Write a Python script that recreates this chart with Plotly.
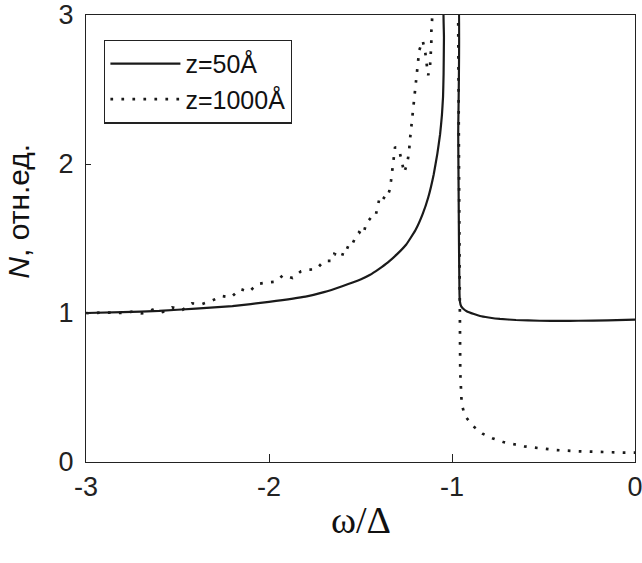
import plotly.graph_objects as go

# z = 50 Å (solid)
solid_x = [-3.0, -2.8, -2.6, -2.4, -2.2, -2.0, -1.8, -1.7, -1.6, -1.5,
           -1.45, -1.4, -1.35, -1.3, -1.25, -1.2, -1.16, -1.13, -1.1, -1.08,
           -1.065, -1.055, -1.049, -1.046, -1.044, -1.043,
           -0.970, -0.966, -0.962, -0.959, -0.957, -0.95, -0.94, -0.92, -0.88,
           -0.847, -0.8, -0.738, -0.65, -0.52, -0.4, -0.31, -0.15, 0.0]
solid_y = [1.0, 1.006, 1.014, 1.03, 1.046, 1.075, 1.11, 1.14, 1.18, 1.225,
           1.255, 1.295, 1.34, 1.395, 1.46, 1.555, 1.665, 1.775, 1.93, 2.07,
           2.2, 2.33, 2.45, 2.6, 2.85, 3.2,
           3.2, 2.2, 1.5, 1.13, 1.08, 1.045, 1.03, 1.012, 0.993,
           0.98, 0.97, 0.96, 0.953, 0.948, 0.947, 0.948, 0.951, 0.956]

# z = 1000 Å (dotted)
dot_x = [-3.0, -2.973, -2.918, -2.858, -2.803, -2.745, -2.694, -2.636, -2.581, -2.53,
         -2.472, -2.421, -2.366, -2.311, -2.258, -2.208, -2.158, -2.109, -2.062, -2.013,
         -1.963, -1.922, -1.871, -1.825, -1.789, -1.743, -1.698, -1.654, -1.643, -1.603,
         -1.585, -1.556, -1.534, -1.508, -1.485, -1.47, -1.444, -1.419, -1.406, -1.393,
         -1.361, -1.343, -1.333, -1.326, -1.32, -1.311, -1.288, -1.275, -1.261, -1.244,
         -1.235, -1.23, -1.224, -1.217, -1.211, -1.206, -1.198, -1.193, -1.187, -1.179,
         -1.16, -1.146, -1.139, -1.13, -1.12, -1.115, -1.113, -1.113, -1.109, -1.105,
         -0.967, -0.962, -0.958, -0.955, -0.947, -0.929, -0.884, -0.833, -0.78, -0.72,
         -0.66, -0.605, -0.546, -0.428, -0.31, -0.18, -0.066, 0.0]
dot_y = [1.0, 0.997, 1.004, 1.002, 1.0, 1.009, 0.997, 1.022, 1.007, 1.038,
         1.022, 1.065, 1.06, 1.083, 1.114, 1.105, 1.161, 1.143, 1.195, 1.204,
         1.21, 1.255, 1.235, 1.28, 1.291, 1.293, 1.35, 1.35, 1.397, 1.372,
         1.446, 1.432, 1.491, 1.542, 1.524, 1.598, 1.639, 1.643, 1.717, 1.789,
         1.764, 1.816, 1.89, 1.964, 2.04, 2.114, 2.091, 2.017, 1.942, 2.009,
         2.08, 2.159, 2.233, 2.311, 2.387, 2.461, 2.535, 2.611, 2.685, 2.764,
         2.827, 2.749, 2.675, 2.596, 2.658, 2.735, 2.809, 2.887, 2.961, 3.2,
         3.2, 2.0, 1.0, 0.6, 0.388, 0.309, 0.24, 0.19, 0.16, 0.134,
         0.119, 0.105, 0.096, 0.08, 0.072, 0.065, 0.063, 0.063]

x_ticks = [-3, -2, -1, 0]
y_ticks = [0, 1, 2, 3]
names = ["z=50Å", "z=1000Å"]

fig = go.Figure()
fig.add_trace(go.Scatter(x=solid_x, y=solid_y, mode="lines", name=names[0],
                         line=dict(color="#1a1a1a", width=2.2, shape="spline", smoothing=0.3)))
fig.add_trace(go.Scatter(x=dot_x, y=dot_y, mode="lines", name=names[1],
                         line=dict(color="#1a1a1a", width=2.7, dash="2.7px,8.3px")))

axis_font = dict(family="Liberation Sans, Arial, sans-serif", size=27, color="#222")
fig.update_layout(
    width=642, height=563,
    margin=dict(l=86, r=7, t=15, b=101, autoexpand=False),
    paper_bgcolor="white", plot_bgcolor="white",
    showlegend=True,
    legend=dict(x=0.033, y=0.945, xanchor="left", yanchor="top",
                bordercolor="#222", borderwidth=1.3, bgcolor="white",
                font=dict(family="Liberation Sans, Arial, sans-serif", size=25, color="#111"),
                itemwidth=70),
    xaxis=dict(range=[-3, 0], tickvals=x_ticks, ticktext=[str(v) for v in x_ticks],
               ticks="inside", ticklen=8, tickwidth=1.3, tickcolor="#222",
               showline=True, mirror=True, linecolor="#222", linewidth=1.3,
               showgrid=False, zeroline=False, tickfont=axis_font, automargin=False,
               ticklabeloverflow="allow"),
    yaxis=dict(range=[0, 3], tickvals=y_ticks, ticktext=[str(v) for v in y_ticks],
               ticks="inside", ticklen=5, tickwidth=1.3, tickcolor="#222",
               showline=True, mirror=True, linecolor="#222", linewidth=1.3,
               showgrid=False, zeroline=False, tickfont=axis_font, automargin=False,
               ticklabelstandoff=6, ticklabeloverflow="allow"),
    annotations=[
        dict(text="<i>N</i>, отн.ед.", textangle=-90, xref="paper", yref="paper",
             x=-0.122, y=0.56, xanchor="center", yanchor="middle", showarrow=False,
             font=dict(family="Liberation Sans, Arial, sans-serif", size=30, color="#111")),
        dict(text="ω/Δ", xref="paper", yref="paper", x=0.5, y=-0.13,
             xanchor="center", yanchor="middle", showarrow=False,
             font=dict(family="Liberation Serif, Times New Roman, serif", size=38, color="#111")),
    ],
)

# remove the page's default body margin so the figure sits at the window's corner
fig.write_html("out.html", config={"displayModeBar": False},
               post_script="document.body.style.margin='0px';")
